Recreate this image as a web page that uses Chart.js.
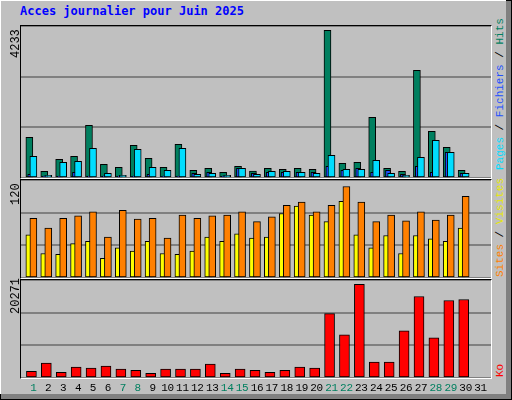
<!DOCTYPE html>
<html><head><meta charset="utf-8">
<script src="https://cdn.jsdelivr.net/npm/chart.js@4/dist/chart.umd.min.js"></script>
<style>
body{margin:0;width:512px;height:400px;overflow:hidden;background:#fff;font-family:"Liberation Mono","DejaVu Sans Mono",monospace}
#frame{position:absolute;left:0;top:0;width:510px;height:398px;border:1px solid #000;background:#808080}
#inner{position:absolute;left:0;top:0;width:505px;height:393px;background:#c0c0c0;border-top:1px solid #fff;border-left:1px solid #fff}
.plot{position:absolute;border-top:1px solid #000;border-left:1px solid #000;border-right:1px solid #fff;border-bottom:1px solid #fff}
canvas{display:block}
.rot{position:absolute;transform-origin:0 0;transform:rotate(-90deg);white-space:nowrap;font-size:12px}
.day{position:absolute;top:382px;width:20px;margin-left:-10px;text-align:center;font-size:11px;letter-spacing:-0.3px}
#title{position:absolute;left:20px;top:4px;color:#0000ff;font-weight:bold;font-size:12px;font-family:"DejaVu Sans Mono",monospace}
</style></head><body>
<div id="frame"></div><div id="inner"></div>
<div id="title">Acces journalier pour Juin 2025</div>
<div class="plot" style="left:20px;top:25px"><canvas id="c1" width="470" height="152"></canvas></div>
<div class="plot" style="left:20px;top:179px"><canvas id="c2" width="470" height="98"></canvas></div>
<div class="plot" style="left:20px;top:279px"><canvas id="c3" width="470" height="98"></canvas></div>
<div class="rot" style="left:9px;top:58px">4233</div>
<div class="rot" style="left:9px;top:205px">120</div>
<div class="rot" style="left:9px;top:314px">20271</div>
<div class="rot" style="left:494px;top:170px;font-size:11px"><span style="color:#00ddff">Pages</span> / <span style="color:#2050ff">Fichiers</span> / <span style="color:#007f5f">Hits</span></div>
<div class="rot" style="left:494px;top:277px;font-size:11px"><span style="color:#ff8000">Sites</span> / <span style="color:#e8e800">Visites</span></div>
<div class="rot" style="left:494px;top:377px;font-size:11px;color:#ff0000">Ko</div>
<div id="days"></div>
<script>
const days=[1,2,3,4,5,6,7,8,9,10,11,12,13,14,15,16,17,18,19,20,21,22,23,24,25,26,27,28,29,30,31];
const weekend=[1,7,8,14,15,21,22,28,29];
const hits=[1134,187,520,604,1467,381,298,910,548,298,938,214,270,159,326,195,270,242,270,242,4113,409,437,1690,270,187,3000,1300,855,214,0];
const files=[103,50,50,159,50,50,50,50,103,50,50,131,159,50,270,131,159,159,159,159,326,214,270,159,214,103,326,159,716,131,0];
const pages=[604,75,437,465,827,131,75,799,298,214,827,103,131,75,270,103,187,187,159,131,632,242,242,493,131,75,576,1050,716,131,0];
const sites=[53,30,29,42,45,24,37,33,45,30,29,33,50,45,54,49,50,79,88,77,69,94,53,37,52,30,52,48,45,61,0];
const visits=[73,61,73,76,81,50,83,72,73,49,77,73,76,77,81,69,75,89,93,81,89,112,93,69,77,70,81,71,77,100,0];
const ko=[1400,3070,1190,2240,2030,2450,1820,1610,980,1820,1820,1820,2860,980,1820,1610,1190,1610,2240,2030,13310,8920,19370,3280,3280,9760,16860,8300,16030,16240,0];
const maxes=[4233,120,20271];

const dd=document.getElementById('days');
days.forEach(d=>{const s=document.createElement('div');s.className='day';s.textContent=d;
 s.style.left=(21+(d-0.17)/31.53*470)+'px';s.style.color=weekend.includes(d)?'#007f5f':'#000';dd.appendChild(s);});

function pts(arr,off){return arr.map((v,i)=>({x:days[i]+off,y:v}));}
function ds(arr,off,color,w,order){return{data:pts(arr,off),backgroundColor:color,borderColor:'#000',borderWidth:1,borderSkipped:false,barThickness:w,order:order,grouped:false};}
function mk(id,max,sets){
 new Chart(document.getElementById(id),{type:'bar',data:{datasets:sets},
 options:{responsive:false,animation:false,layout:{padding:0},
  plugins:{legend:{display:false},tooltip:{enabled:false}},
  scales:{x:{type:'linear',offset:false,min:0.17,max:31.7,display:false},
   y:{min:0,max:max,afterFit:s=>{s.width=0;},ticks:{display:false,stepSize:max/3,count:4},grid:{color:'#808080',drawTicks:false,lineWidth:2},border:{display:false}}}}});
}
mk('c1',maxes[0],[ds(hits,-0.27,'#007f5f',7,3),ds(files,-0.21,'#2050ff',5,2),ds(pages,0,'#00ddff',7,1)]);
mk('c2',maxes[1],[ds(sites,-0.27,'#ffff00',7,2),ds(visits,0,'#ff8000',7,1)]);
mk('c3',maxes[2],[ds(ko,-0.13,'#ff0000',10,1)]);
</script></body></html>
